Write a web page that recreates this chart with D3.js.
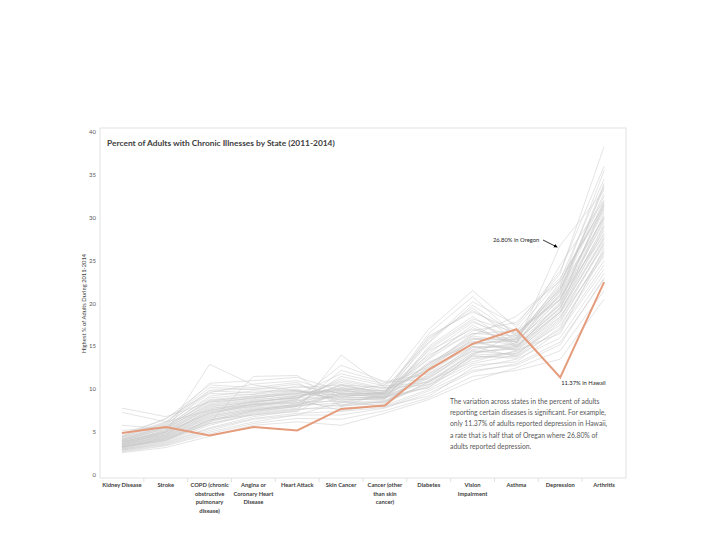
<!DOCTYPE html>
<html>
<head>
<meta charset="utf-8">
<script src="https://cdn.jsdelivr.net/npm/d3@7"></script>
<style>
  body { margin: 0; background: #fff; }
  svg { font-family: Lato, "Open Sans", sans-serif; }
</style>
</head>
<body>
<svg id="chart" width="720" height="540"></svg>
<script>
const width = 720;
const height = 540;

// Categories along the x axis (label lines split with "|")
const categories = [
  "Kidney Disease", "Stroke", "COPD (chronic|obstructive|pulmonary|disease)",
  "Angina or|Coronary Heart|Disease", "Heart Attack", "Skin Cancer",
  "Cancer (other|than skin|cancer)", "Diabetes", "Vision|Impairment",
  "Asthma", "Depression", "Arthritis"
];

const yTicks = [0, 5, 10, 15, 20, 25, 30, 35, 40];

// Highlighted state
const hawaii = [4.9, 5.6, 4.6, 5.6, 5.2, 7.7, 8.1, 12.3, 15.3, 17.0, 11.37, 22.5];

// Every other state (values per category)
const states = [
  [3.2, 4.1, 6.0, 7.2, 7.8, 9.5, 9.0, 10.2, 13.5, 14.2, 17.5, 25.0],
  [3.5, 4.5, 6.8, 7.8, 8.2, 10.2, 9.3, 11.0, 14.2, 15.0, 19.0, 27.5],
  [4.8, 6.5, 10.5, 10.2, 10.8, 8.0, 9.6, 16.5, 20.8, 16.2, 22.0, 35.5],
  [4.2, 5.8, 9.8, 9.6, 10.0, 8.5, 9.2, 15.8, 19.5, 15.5, 21.0, 33.8],
  [7.8, 6.8, 8.5, 9.0, 9.5, 10.0, 9.8, 14.0, 16.5, 16.8, 20.5, 30.0],
  [7.3, 6.2, 7.5, 8.6, 9.0, 9.0, 9.0, 13.2, 15.2, 15.8, 19.8, 29.0],
  [2.6, 3.2, 4.5, 5.8, 6.2, 5.8, 7.2, 8.8, 11.0, 12.5, 14.5, 21.5],
  [2.9, 3.6, 5.2, 6.5, 7.0, 7.0, 7.8, 9.5, 12.0, 13.0, 15.5, 22.8],
  [3.8, 5.0, 12.9, 10.5, 9.8, 9.2, 9.5, 14.5, 17.0, 15.5, 21.5, 32.0],
  [4.5, 6.0, 10.7, 11.0, 11.4, 9.8, 10.5, 17.0, 21.5, 17.2, 23.5, 38.3],
  [3.0, 3.8, 5.5, 6.8, 7.5, 14.0, 10.2, 10.5, 13.0, 14.0, 18.0, 26.0],
  [3.3, 4.2, 6.2, 7.4, 8.0, 12.2, 10.8, 11.2, 14.8, 15.2, 26.8, 33.2],
  [4.0, 5.2, 8.0, 8.5, 9.0, 11.0, 10.0, 12.0, 15.8, 15.8, 22.5, 31.5],
  [3.6, 4.8, 7.2, 8.0, 8.6, 10.5, 9.4, 11.5, 15.0, 14.8, 20.2, 28.5],
  [4.4, 5.5, 8.8, 9.2, 9.5, 9.0, 9.0, 14.2, 17.8, 16.0, 21.8, 32.5],
  [3.1, 4.0, 6.5, 7.0, 7.6, 8.2, 8.5, 10.8, 13.8, 13.8, 17.0, 24.5],
  [3.9, 5.1, 7.8, 8.2, 8.8, 7.5, 8.2, 12.8, 15.5, 14.5, 16.5, 26.5],
  [4.1, 5.6, 9.2, 9.8, 9.8, 8.8, 8.8, 15.0, 18.5, 15.0, 19.5, 30.5],
  [3.4, 4.4, 6.6, 7.6, 8.1, 9.8, 9.2, 10.2, 14.0, 16.5, 20.8, 28.0],
  [2.8, 3.5, 5.0, 6.2, 7.0, 8.5, 8.0, 9.2, 12.5, 13.5, 16.0, 23.5],
  [3.7, 4.9, 7.5, 8.4, 9.2, 10.8, 9.8, 12.5, 16.2, 15.5, 21.2, 30.8],
  [4.3, 5.9, 9.5, 9.4, 10.4, 9.5, 9.5, 16.2, 19.0, 16.8, 22.8, 34.5],
  [3.5, 4.6, 7.0, 7.9, 8.4, 8.0, 8.6, 11.8, 14.5, 14.0, 18.2, 27.0],
  [5.8, 5.4, 8.2, 8.8, 9.2, 10.2, 9.8, 13.5, 16.8, 17.8, 23.0, 31.0],
  [3.2, 4.3, 6.4, 7.5, 8.3, 11.5, 10.4, 10.8, 14.2, 14.8, 19.2, 27.8],
  [4.6, 6.2, 10.2, 10.0, 10.2, 10.5, 10.2, 15.5, 20.2, 17.5, 23.8, 36.0],
  [3.8, 4.7, 7.6, 8.1, 8.7, 9.2, 8.9, 13.0, 15.6, 14.6, 19.0, 28.8],
  [3.0, 3.9, 5.8, 7.1, 7.7, 7.8, 8.1, 10.0, 12.8, 13.2, 16.8, 24.0],
  [4.2, 5.3, 8.5, 8.9, 9.6, 9.8, 9.6, 13.8, 17.2, 15.2, 20.0, 31.8],
  [3.6, 5.0, 7.2, 8.3, 8.5, 8.6, 8.4, 12.2, 15.0, 13.8, 17.8, 26.2],
  [3.3, 4.0, 6.0, 7.0, 7.4, 10.0, 9.0, 11.0, 13.2, 14.5, 18.5, 25.5],
  [4.0, 5.4, 8.3, 9.0, 9.4, 11.8, 10.6, 12.6, 16.5, 16.2, 22.2, 32.8],
  [3.4, 4.5, 6.9, 7.7, 8.2, 9.4, 9.1, 11.4, 14.6, 15.4, 20.5, 29.5],
  [2.7, 3.4, 4.8, 6.0, 6.6, 6.5, 7.5, 9.0, 11.5, 12.2, 13.5, 20.5],
  [4.5, 6.6, 9.6, 10.6, 11.0, 9.4, 9.6, 15.4, 19.8, 16.4, 21.6, 33.5],
  [3.9, 5.0, 7.9, 8.6, 9.0, 10.4, 9.7, 12.4, 15.9, 16.0, 21.0, 30.2],
  [3.1, 4.2, 6.3, 7.3, 8.0, 8.9, 8.7, 10.6, 13.6, 14.4, 18.8, 26.8],
  [5.2, 5.6, 8.6, 9.2, 9.8, 9.6, 9.4, 14.8, 18.2, 16.6, 20.4, 31.2],
  [3.7, 4.8, 7.4, 8.0, 8.8, 12.8, 10.9, 11.8, 15.4, 15.6, 24.5, 32.0],
  [3.2, 4.4, 6.7, 7.6, 8.1, 8.4, 8.6, 10.4, 13.9, 13.6, 17.2, 25.8],
  [4.1, 5.7, 9.0, 9.4, 9.9, 8.7, 9.0, 14.6, 18.0, 15.4, 20.6, 31.4],
  [3.5, 4.6, 7.1, 8.2, 8.4, 10.6, 9.5, 11.6, 14.9, 15.0, 19.6, 28.2],
  [3.8, 5.2, 8.1, 8.7, 9.3, 9.9, 9.3, 13.0, 16.0, 15.1, 19.4, 29.2],
  [4.4, 6.1, 9.9, 10.0, 10.6, 9.1, 9.7, 16.0, 19.2, 16.2, 21.4, 34.0],
  [2.9, 3.7, 5.4, 6.6, 7.2, 7.4, 7.9, 9.8, 12.2, 12.8, 15.2, 23.0],
  [3.6, 4.7, 7.3, 8.3, 8.9, 11.2, 10.1, 12.2, 15.3, 15.9, 21.8, 30.0],
  [4.0, 5.5, 8.7, 9.1, 9.7, 9.3, 9.2, 13.6, 17.5, 14.9, 19.9, 29.8],
  [3.3, 4.1, 6.1, 11.5, 11.6, 8.1, 8.3, 10.9, 14.0, 14.2, 18.4, 27.2],
  [3.9, 5.0, 7.7, 8.5, 9.1, 10.1, 9.5, 12.9, 16.3, 18.5, 22.6, 31.6],
  [3.4, 4.3, 6.4, 7.5, 8.0, 9.6, 9.0, 11.3, 14.4, 14.7, 19.0, 27.6]
];

const noteLines = [
  "The variation across states in the percent of adults",
  "reporting certain diseases is significant. For example,",
  "only 11.37% of adults reported depression in Hawaii,",
  "a rate that is half that of Oregan where 26.80% of",
  "adults reported depression."
];

const margin = { top: 132, right: 94, bottom: 65, left: 100 };
const svg = d3.select("#chart");

const x = d3.scaleBand()
  .domain(categories)
  .range([margin.left, width - margin.right]);

const y = d3.scaleLinear()
  .domain([0, 40])
  .range([height - margin.bottom, margin.top]);

// Frame around plot
svg.append("rect")
  .attr("x", margin.left)
  .attr("y", 128)
  .attr("width", width - margin.right - margin.left)
  .attr("height", height - margin.bottom - 128 + 3)
  .attr("fill", "none")
  .attr("stroke", "#e2e2e2")
  .attr("stroke-width", 1);

// Y axis labels
svg.append("g")
  .selectAll("text")
  .data(yTicks)
  .join("text")
  .attr("x", 96)
  .attr("y", d => y(d) + 2)
  .attr("text-anchor", "end")
  .attr("font-size", 6)
  .attr("fill", "#595959")
  .text(d => d);

svg.append("text")
  .attr("transform", `translate(86,${y(20)}) rotate(-90)`)
  .attr("text-anchor", "middle")
  .attr("font-size", 5.8)
  .attr("fill", "#404040")
  .text("Highest % of Adults During 2011-2014");

// X axis ticks between categories
const xAxisY = height - margin.bottom + 3;
svg.append("g")
  .selectAll("line")
  .data(categories.slice(1))
  .join("line")
  .attr("x1", d => x(d))
  .attr("x2", d => x(d))
  .attr("y1", xAxisY)
  .attr("y2", xAxisY + 4)
  .attr("stroke", "#e2e2e2");

// X labels
svg.append("g")
  .selectAll("text")
  .data(categories)
  .join("text")
  .attr("x", d => x(d) + x.bandwidth() / 2)
  .attr("y", xAxisY + 9)
  .attr("text-anchor", "middle")
  .attr("font-size", 5.8)
  .attr("font-weight", "bold")
  .attr("fill", "#404040")
  .each(function (d) {
    d.split("|").forEach((t, i) => {
      d3.select(this).append("tspan")
        .attr("x", x(d) + x.bandwidth() / 2)
        .attr("dy", i === 0 ? 0 : 8.5)
        .text(t);
    });
  });

// Lines
const line = d3.line()
  .x((d, i) => x(categories[i]) + x.bandwidth() / 2)
  .y(d => y(d));

svg.append("g")
  .selectAll("path")
  .data(states)
  .join("path")
  .attr("d", line)
  .attr("fill", "none")
  .attr("stroke", "#c8c8c8")
  .attr("stroke-opacity", 0.65)
  .attr("stroke-width", 0.75);

svg.append("path")
  .datum(hawaii)
  .attr("d", line)
  .attr("fill", "none")
  .attr("stroke", "#e59c7c")
  .attr("stroke-width", 2);

// Title
svg.append("text")
  .attr("x", 107)
  .attr("y", 146)
  .attr("font-size", 8.4)
  .attr("font-weight", "bold")
  .attr("fill", "#404040")
  .text("Percent of Adults with Chronic Illnesses by State (2011-2014)");

// Annotations
const depX = x("Depression") + x.bandwidth() / 2;
svg.append("text")
  .attr("x", 493)
  .attr("y", 242)
  .attr("font-size", 5.8)
  .attr("fill", "#262626")
  .text("26.80% in Oregon");

svg.append("defs").append("marker")
  .attr("id", "arrow")
  .attr("viewBox", "0 0 10 10")
  .attr("refX", 9).attr("refY", 5)
  .attr("markerWidth", 5).attr("markerHeight", 5)
  .attr("orient", "auto")
  .append("path")
  .attr("d", "M0,0L10,5L0,10z")
  .attr("fill", "#000");

svg.append("line")
  .attr("x1", 543).attr("y1", 240)
  .attr("x2", depX - 3).attr("y2", y(26.8) + 2)
  .attr("stroke", "#000")
  .attr("stroke-width", 0.8)
  .attr("marker-end", "url(#arrow)");

svg.append("text")
  .attr("x", depX + 1)
  .attr("y", y(11.37) + 7)
  .attr("font-size", 5.8)
  .attr("fill", "#262626")
  .text("11.37% in Hawaii");

svg.append("text")
  .attr("x", 450)
  .attr("y", 404)
  .attr("font-size", 6.8)
  .attr("fill", "#595959")
  .selectAll("tspan")
  .data(noteLines)
  .join("tspan")
  .attr("x", 450)
  .attr("dy", (d, i) => i === 0 ? 0 : 11.2)
  .text(d => d);
</script>
</body>
</html>
